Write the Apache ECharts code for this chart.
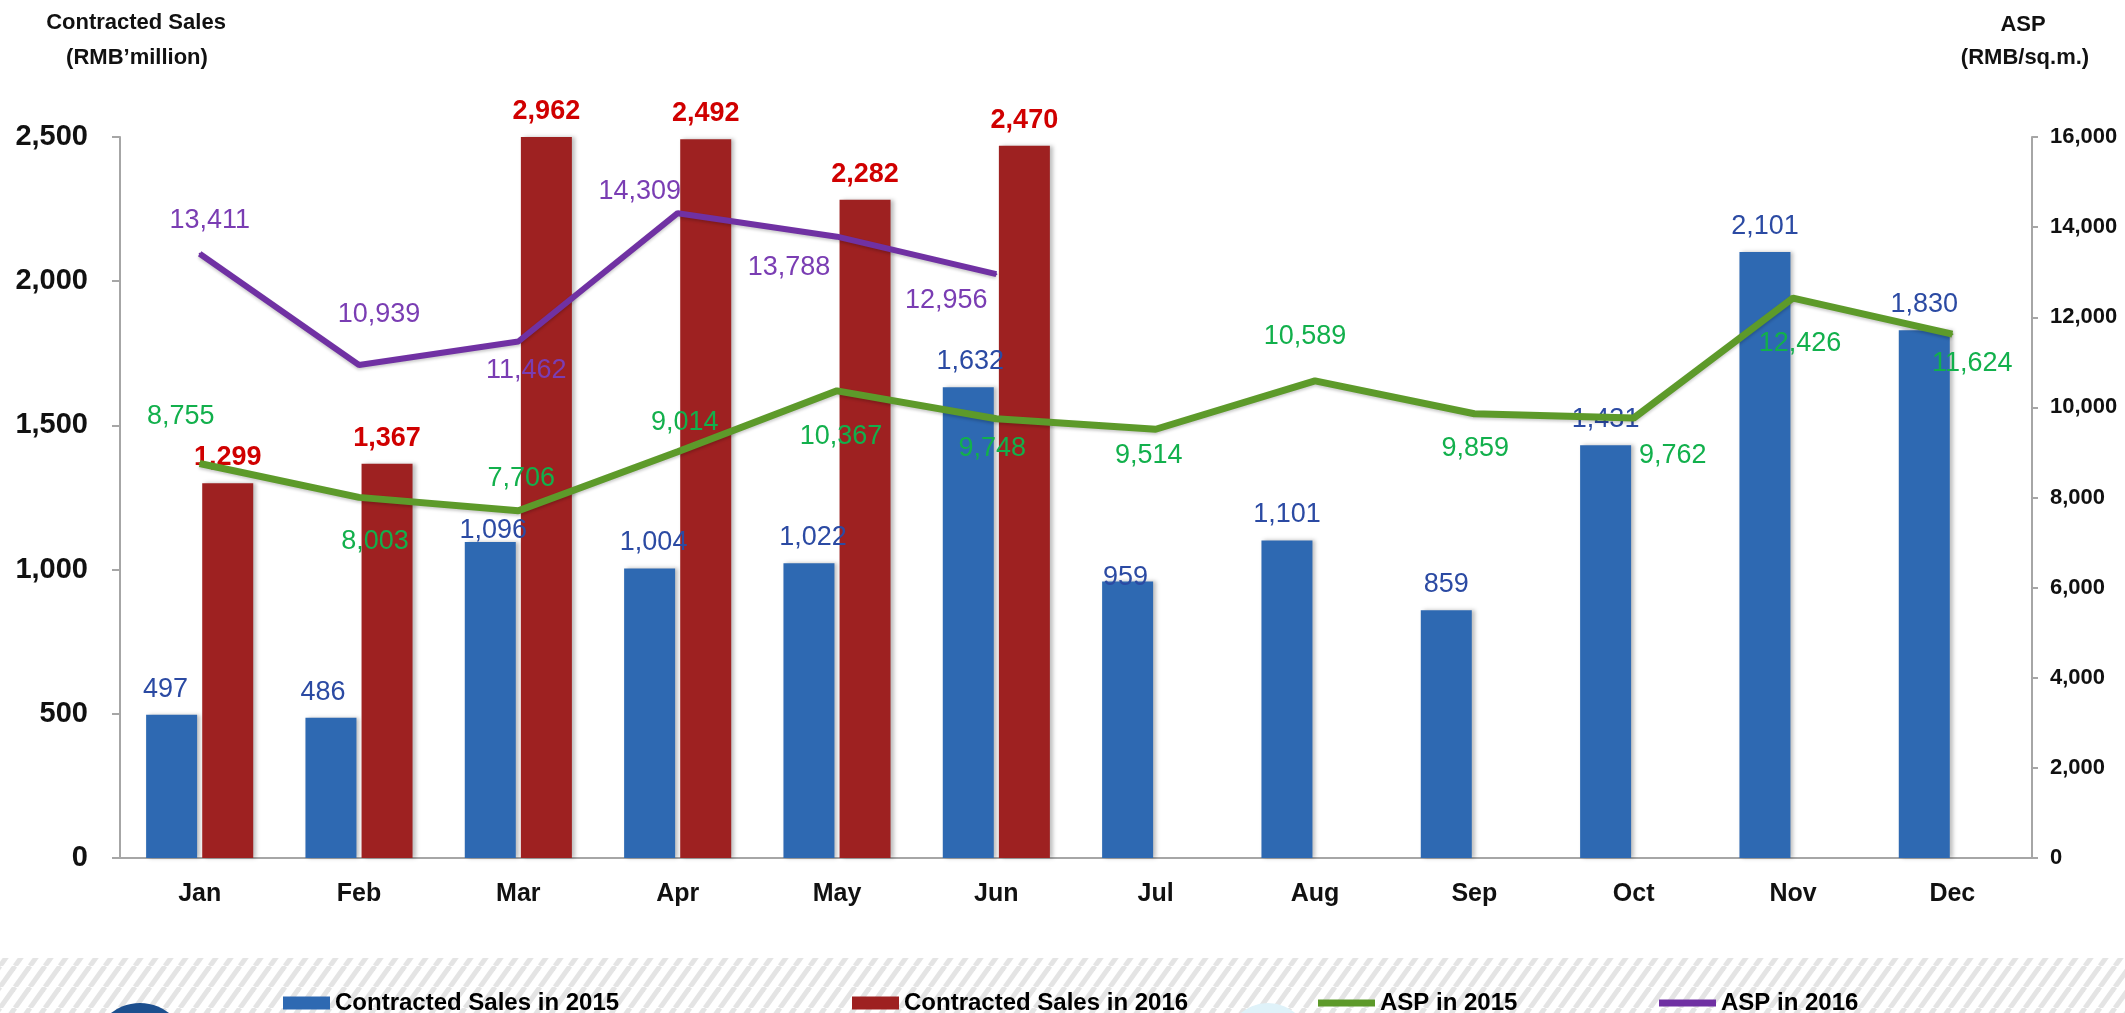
<!DOCTYPE html>
<html>
<head>
<meta charset="utf-8">
<title>Contracted Sales and ASP</title>
<script src="https://cdn.jsdelivr.net/npm/echarts@6/dist/echarts.min.js"></script>
<style>
html, body { margin: 0; padding: 0; background: #fff; }
#chart { width: 2125px; height: 1013px; }
</style>
</head>
<body>
<div id="chart"></div>
<script>
// data
var months = ['Jan', 'Feb', 'Mar', 'Apr', 'May', 'Jun', 'Jul', 'Aug', 'Sep', 'Oct', 'Nov', 'Dec'];
var sales2015 = [497, 486, 1096, 1004, 1022, 1632, 959, 1101, 859, 1431, 2101, 1830];
var sales2016 = [1299, 1367, 2962, 2492, 2282, 2470, null, null, null, null, null, null];
var asp2015 = [8755, 8003, 7706, 9014, 10367, 9748, 9514, 10589, 9859, 9762, 12426, 11624];
var asp2016 = [13411, 10939, 11462, 14309, 13788, 12956, null, null, null, null, null, null];

// axis scales
var salesMax = 2500, salesStep = 500;
var aspMax = 16000, aspStep = 2000;

var FONT = "'Liberation Sans', Arial, sans-serif";

// where each value label sits relative to its point (label centre offset)
var aspShift15 = [[-19,-47],[16,44],[3,-32],[7,-29],[4,46],[-4,30],[-7,26],[-10,-44],[1,35],[39,37],[7,45],[20,29]];
var aspShift16 = [[10,-33],[20,-51],[8,29],[-38,-22],[-48,31],[-50,26]];
// a couple of the 2015 bar labels sit lower in the original
var barShift15 = [[-6,0],[-8,0],[3,14],[4,0],[4,0],[2,0],[-2,22],[0,0],[0,0],[0,0],[0,0],[0,0]];

function fmt(v) { return Number(v).toLocaleString('en-US'); }

function lineData(vals, shifts) {
  return vals.map(function (v, i) {
    if (v == null) return '-';
    return { value: v, label: { offset: shifts[i] } };
  });
}

function barData(vals, shifts) {
  return vals.map(function (v, i) {
    return { value: v, label: { offset: shifts[i] } };
  });
}

// diagonal hatch for the footer band
function hatchTile() {
  var c = document.createElement('canvas');
  c.width = 15; c.height = 21;
  var ctx = c.getContext('2d');
  ctx.strokeStyle = '#e4e4e4';
  ctx.lineWidth = 5;
  [-15, 0, 15].forEach(function (dx) {
    ctx.beginPath();
    ctx.moveTo(dx, 21);
    ctx.lineTo(dx + 15, 0);
    ctx.stroke();
  });
  return c;
}

var chart = echarts.init(document.getElementById('chart'));

var legendText = { color: '#000', fontSize: 24, fontWeight: 'bold', fontFamily: FONT };
function legendAt(name, x, w, h, icon) {
  return {
    data: [name], left: x, top: 986, itemWidth: w, itemHeight: h, itemGap: 7, icon: icon,
    textStyle: legendText, selectedMode: false
  };
}

var titleFont = 'bold 22px ' + FONT;

var option = {
  backgroundColor: '#fff',
  animation: false,
  grid: { left: 120, right: 93, top: 137, bottom: 155 },
  graphic: [
    { type: 'rect', z: -10, shape: { x: 0, y: 958, width: 2125, height: 60 },
      style: { fill: { image: hatchTile(), repeat: 'repeat' } } },
    { type: 'circle', z: -5, shape: { cx: 1268, cy: 1045, r: 42 }, style: { fill: '#dff2f9' } },
    { type: 'circle', z: -5, shape: { cx: 140, cy: 1050, r: 47 }, style: { fill: '#1d4f8e' } },
    { type: 'text', x: 136, y: 23, style: { text: 'Contracted Sales', align: 'center', verticalAlign: 'middle',
      font: titleFont, fill: '#111' } },
    { type: 'text', x: 137, y: 58, style: { text: '(RMB\u2019million)', align: 'center', verticalAlign: 'middle',
      font: titleFont, fill: '#111' } },
    { type: 'text', x: 2023, y: 25, style: { text: 'ASP', align: 'center', verticalAlign: 'middle',
      font: titleFont, fill: '#111' } },
    { type: 'text', x: 2025, y: 58, style: { text: '(RMB/sq.m.)', align: 'center', verticalAlign: 'middle',
      font: titleFont, fill: '#111' } }
  ],
  legend: [
    legendAt('Contracted Sales in 2015', 278, 47, 13, 'rect'),
    legendAt('Contracted Sales in 2016', 847, 47, 13, 'rect'),
    legendAt('ASP in 2015', 1313, 57, 7, 'rect'),
    legendAt('ASP in 2016', 1654, 57, 7, 'rect')
  ],
  xAxis: {
    type: 'category',
    data: months,
    axisLine: { lineStyle: { color: '#a6a6a6', width: 2 } },
    axisTick: { show: false },
    axisLabel: { color: '#111', fontSize: 25, fontWeight: 'bold', fontFamily: FONT, margin: 24 }
  },
  yAxis: [
    {
      type: 'value', min: 0, max: salesMax, interval: salesStep,
      axisLine: { show: true, lineStyle: { color: '#a6a6a6', width: 2 } },
      axisTick: { show: true, length: 8, lineStyle: { color: '#a6a6a6', width: 2 } },
      splitLine: { show: false },
      axisLabel: { color: '#111', fontSize: 29, fontWeight: 'bold', fontFamily: FONT, margin: 32, formatter: fmt }
    },
    {
      type: 'value', min: 0, max: aspMax, interval: aspStep, position: 'right',
      axisLine: { show: true, lineStyle: { color: '#a6a6a6', width: 2 } },
      axisTick: { show: true, length: 6, lineStyle: { color: '#a6a6a6', width: 2 } },
      splitLine: { show: false },
      axisLabel: { color: '#111', fontSize: 22, fontWeight: 'bold', fontFamily: FONT, margin: 18, formatter: fmt }
    }
  ],
  series: [
    {
      name: 'Contracted Sales in 2015', type: 'bar', barWidth: 51, barGap: '10%',
      itemStyle: { color: '#2e69b2', shadowColor: 'rgba(0,0,0,0.25)', shadowBlur: 4, shadowOffsetX: 3 },
      label: { show: true, position: 'top', distance: 12, color: '#2b4aa3', fontSize: 27,
        fontFamily: FONT, formatter: function (p) { return fmt(p.value); } },
      data: barData(sales2015, barShift15)
    },
    {
      name: 'Contracted Sales in 2016', type: 'bar', barWidth: 51,
      itemStyle: { color: '#9e2121', shadowColor: 'rgba(0,0,0,0.25)', shadowBlur: 4, shadowOffsetX: 3 },
      label: { show: true, position: 'top', distance: 12, color: '#d00000', fontSize: 27, fontWeight: 'bold',
        fontFamily: FONT, formatter: function (p) { return fmt(p.value); } },
      data: sales2016
    },
    {
      name: 'ASP in 2015', type: 'line', yAxisIndex: 1, symbol: 'circle', symbolSize: 2,
      itemStyle: { color: '#5d9a2a' },
      lineStyle: { color: '#5d9a2a', width: 7, shadowColor: 'rgba(0,0,0,0.2)', shadowBlur: 3, shadowOffsetY: 2 },
      label: { show: true, position: 'inside', color: '#12b04c', fontSize: 27, fontFamily: FONT,
        formatter: function (p) { return fmt(p.value); } },
      data: lineData(asp2015, aspShift15),
      z: 3
    },
    {
      name: 'ASP in 2016', type: 'line', yAxisIndex: 1, symbol: 'circle', symbolSize: 2,
      itemStyle: { color: '#7031a3' },
      lineStyle: { color: '#7031a3', width: 6, shadowColor: 'rgba(0,0,0,0.2)', shadowBlur: 3, shadowOffsetY: 2 },
      label: { show: true, position: 'inside', color: '#7a3db3', fontSize: 27, fontFamily: FONT,
        formatter: function (p) { return fmt(p.value); } },
      data: lineData(asp2016, aspShift16),
      z: 3
    }
  ]
};

chart.setOption(option);
</script>
</body>
</html>
